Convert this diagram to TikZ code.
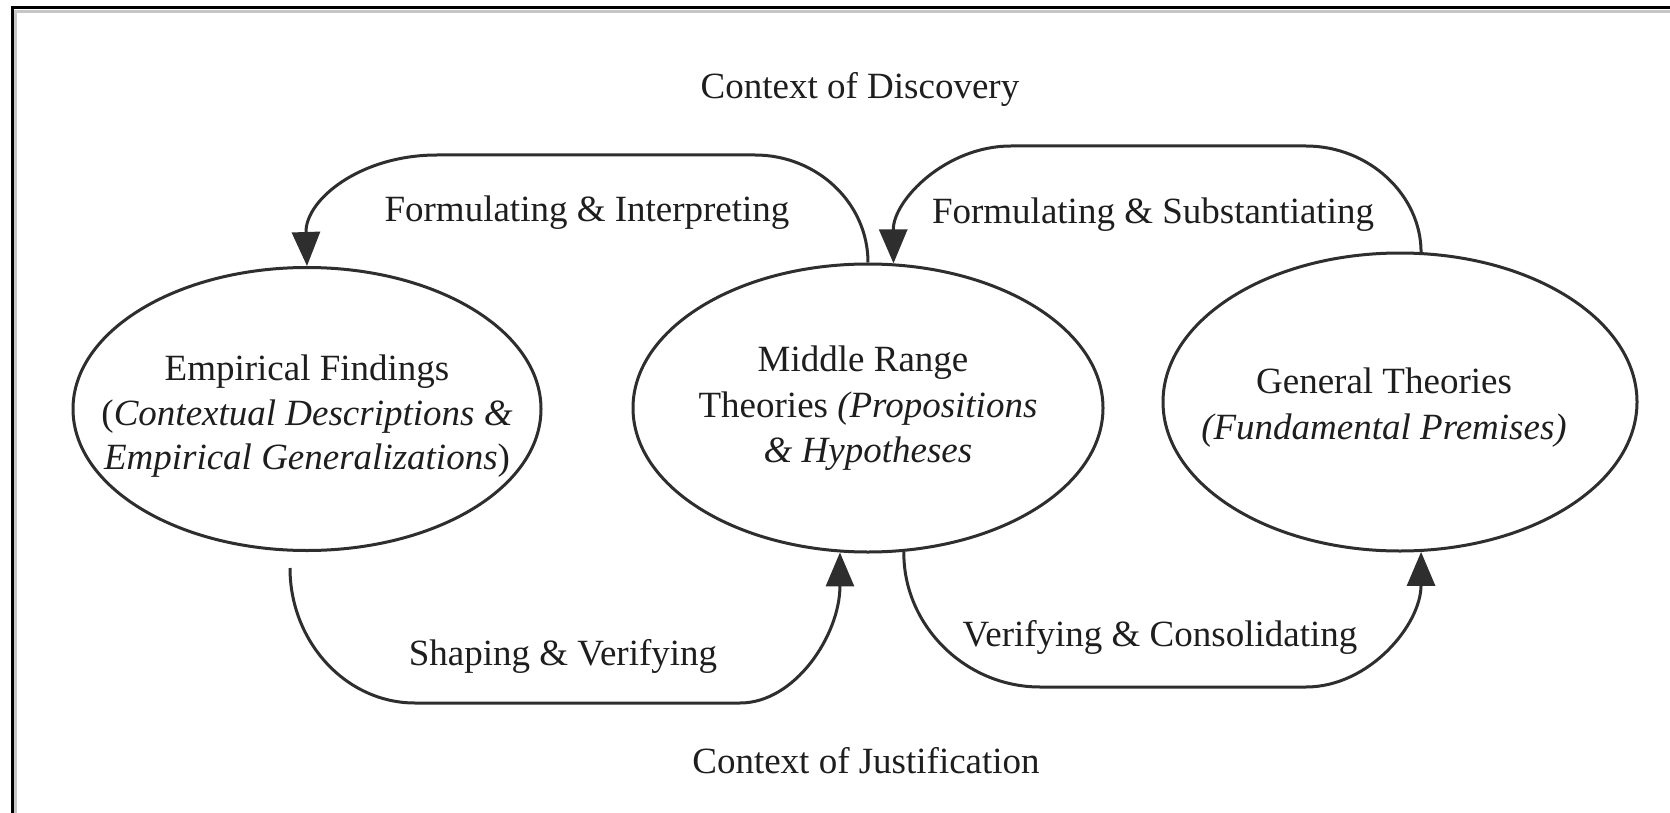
\documentclass[tikz,border=0pt]{standalone}
\usepackage{fontspec}
\setmainfont{Liberation Serif}
\usetikzlibrary{shapes.geometric,arrows.meta}
\definecolor{ink}{HTML}{2E2E2E}
\definecolor{txt}{HTML}{1E1E1E}
\begin{document}
\begin{tikzpicture}[x=1pt,y=-1pt,
  oval/.style={ellipse,draw=ink,line width=3pt,inner sep=0pt},
  lbl/.style={text=txt,inner sep=0pt,font=\fontsize{37}{45}\selectfont,text height=26pt,text depth=9pt},
  conn/.style={draw=ink,line width=3pt},
  tip/.style={-{Triangle[length=34pt,width=28pt]}}]
\useasboundingbox (0,0) rectangle (1670,813);
\fill[white] (0,0) rectangle (1670,813);
% frame (top and left edges only)
\draw[gray!45,line width=3pt] (15.5,813) -- (15.5,11.5) -- (1670,11.5);
\draw[black,line width=3pt] (12,813) -- (12,8) -- (1670,8);

% ellipses
\node[oval,minimum width=468pt,minimum height=283pt] (L) at (307,409) {};
\node[oval,minimum width=470pt,minimum height=288pt] (M) at (868,408) {};
\node[oval,minimum width=474pt,minimum height=298pt] (R) at (1400,402) {};

% texts in ellipses
\node[lbl] (l1) at (307,372) {Empirical Findings};
\node[lbl] (l2) at (307,417) {(\textit{Contextual Descriptions \&}};
\node[lbl] (l3) at (307,461) {\textit{Empirical Generalizations})};
\node[lbl] (m1) at (863,363) {Middle Range};
\node[lbl] (m2) at (868,409) {Theories \textit{(Propositions}};
\node[lbl] (m3) at (868,454) {\textit{\& Hypotheses}};
\node[lbl] (r1) at (1384,385) {General Theories};
\node[lbl] (r2) at (1384,431) {\textit{(Fundamental Premises)}};

% context labels
\node[lbl] (cd) at (860,90) {Context of Discovery};
\node[lbl] (cj) at (866,765) {Context of Justification};

% connector labels
\node[lbl] (fi) at (587,213) {Formulating \& Interpreting};
\node[lbl] (fs) at (1153,215) {Formulating \& Substantiating};
\node[lbl] (sv) at (563,657) {Shaping \& Verifying};
\node[lbl] (vc) at (1160,638) {Verifying \& Consolidating};

% free start below the left ellipse
\coordinate (a3s) at (290,568);

% connectors
\draw[conn,tip] (M.north) .. controls (868,203) and (817,155) .. (755,155)
  -- (437,155) .. controls (360,155) and (305,200) .. (L.north);
\draw[conn,tip] (R.82) .. controls (1421,195) and (1369,146) .. (1306,146)
  -- (1011,146) .. controls (946,146) and (893,200) .. (M.80);
\draw[conn,tip] (a3s) .. controls (290,642) and (346,703) .. (415,703)
  -- (740,703) .. controls (795,703) and (840,635) .. (M.-101);
\draw[conn,tip] (M.-76) .. controls (903,625) and (965,687) .. (1040,687)
  -- (1306,687) .. controls (1369,687) and (1421,625) .. (R.-82);
\end{tikzpicture}
\end{document}
